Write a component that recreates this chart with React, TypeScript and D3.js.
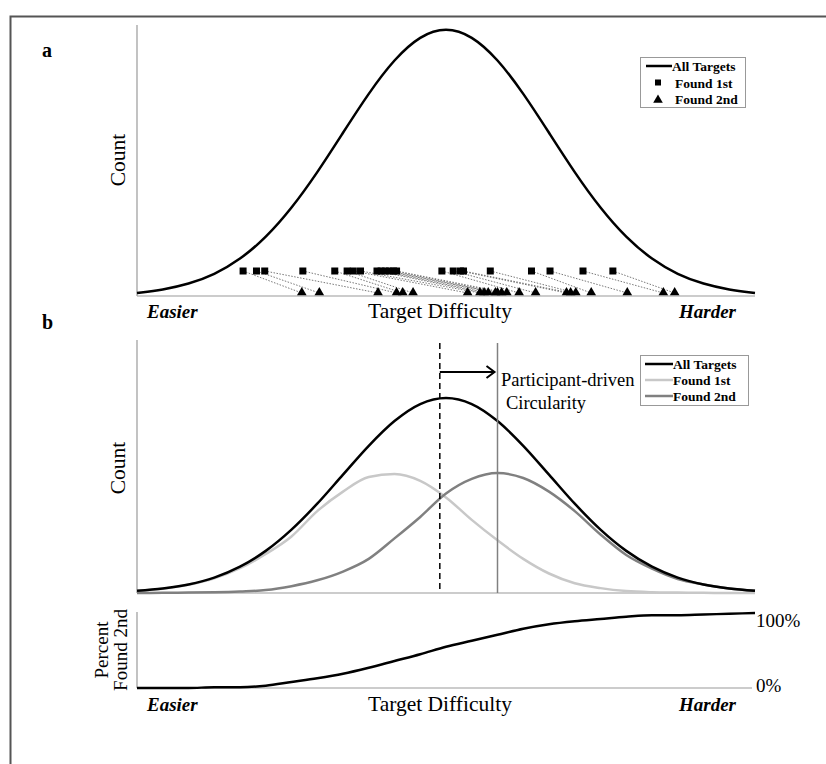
import React from 'react';
import * as d3 from 'd3';

// difficulty bins (SD units) and the curves read at each bin
const difficulty = [-3, -2.75, -2.5, -2.25, -2, -1.75, -1.5, -1.25, -1, -0.75, -0.5, -0.25, 0, 0.25, 0.5, 0.75, 1, 1.25, 1.5, 1.75, 2, 2.25, 2.5, 2.75, 3];
const allTargets = [1.1, 2.3, 4.4, 7.9, 13.5, 21.6, 32.5, 45.8, 60.7, 75.5, 88.2, 96.9, 100, 96.9, 88.2, 75.5, 60.7, 45.8, 32.5, 21.6, 13.5, 7.9, 4.4, 2.3, 1.1];
const found1st = [1.1, 2.2, 4.2, 7.5, 12.7, 20, 29, 42, 52, 59.5, 61, 57.5, 49, 37.5, 27, 17.5, 10, 5, 2.5, 1, 0.4, 0.2, 0.1, 0, 0];
const found2nd = [0, 0.1, 0.2, 0.4, 0.8, 1.5, 3.5, 6.5, 11, 17.5, 28, 39, 51, 58.5, 61.5, 59, 52, 42, 30, 19.5, 12.5, 7.2, 4.4, 2.3, 1.1];
const percentFound2nd = [0, 0, 0, 1, 1, 3, 8, 13, 19, 27, 36, 45, 55, 63, 71, 79, 85, 89, 92, 95, 97, 97, 98, 99, 100];

// panel a: difficulty of the target found 1st / 2nd in each search
const pairFirst = [-1.97, -1.84, -1.76, -1.39, -1.08, -0.96, -0.9, -0.83, -0.67, -0.63, -0.59, -0.55, -0.51, -0.48, -0.04, 0.07, 0.14, 0.17, 0.43, 0.83, 1.01, 1.33, 1.62];
const pairSecond = [-1.4, -1.23, -0.66, -0.48, -0.42, -0.32, 0.21, 0.33, 0.37, 0.41, 0.48, 0.5, 0.54, 0.59, 0.71, 0.87, 1.17, 1.21, 1.26, 1.41, 1.76, 2.11, 2.22];

const meanAll = -0.06;
const meanFound2nd = 0.5;

const W = 826;
const H = 764;
const serif = '"Liberation Serif", "Times New Roman", serif';
const axisColor = '#9a9a9a';

const x = d3.scaleLinear().domain([-3, 3]).range([137, 755]);
const yA = d3.scaleLinear().domain([0, 100]).range([296, 27]);
const yB = d3.scaleLinear().domain([0, 100]).range([593, 398]);
const yP = d3.scaleLinear().domain([0, 100]).range([688, 613]);

const lineFor = (vals: number[], y: d3.ScaleLinear<number, number>, curve: d3.CurveFactory) =>
  d3.line<number>()
    .x((_, i) => x(difficulty[i]))
    .y(d => y(d))
    .curve(curve)(vals) as string;

const tri = d3.symbol().type(d3.symbolTriangle).size(40)() as string;

const AxisLabels = ({ y }: { y: number }) => (
  <g fontFamily={serif}>
    <text x={147} y={y} fontSize={19} fontWeight="bold" fontStyle="italic">Easier</text>
    <text x={440} y={y} fontSize={21.5} textAnchor="middle">Target Difficulty</text>
    <text x={736} y={y} fontSize={19} fontWeight="bold" fontStyle="italic" textAnchor="end">Harder</text>
  </g>
);

const App = () => {
  return (
    <svg width={W} height={H} style={{ position: 'absolute', left: 0, top: 0, background: '#fff' }}>
      <rect x={10.5} y={16.5} width={840} height={780} fill="none" stroke="#555" strokeWidth={2} />

      {/* panel a */}
      <text x={42} y={57} fontFamily={serif} fontSize={20} fontWeight="bold">a</text>
      <line x1={137} x2={137} y1={25} y2={296} stroke={axisColor} strokeWidth={1.2} />
      <line x1={137} x2={755} y1={296} y2={296} stroke={axisColor} strokeWidth={1.2} />
      <text transform="translate(125,160) rotate(-90)" textAnchor="middle" fontFamily={serif} fontSize={21.5}>Count</text>
      {pairFirst.map((d, i) => (
        <line key={'p' + i} x1={x(d)} y1={271} x2={x(pairSecond[i])} y2={293}
          stroke="#555" strokeWidth={0.8} strokeDasharray="1.5,1.5" />
      ))}
      <path d={lineFor(allTargets, yA, d3.curveBasis)} fill="none" stroke="#000" strokeWidth={2.5} />
      {pairFirst.map((d, i) => (
        <rect key={'s' + i} x={x(d) - 3.5} y={267.5} width={7} height={7} fill="#000" />
      ))}
      {pairSecond.map((d, i) => (
        <path key={'t' + i} d={tri} transform={`translate(${x(d)},${292.5})`} fill="#000" />
      ))}
      <g fontFamily={serif} fontSize={13.5} fontWeight="bold">
        <rect x={640.5} y={57.5} width={105} height={50} fill="#fff" stroke="#999" strokeWidth={1} />
        <line x1={646} x2={672} y1={66} y2={66} stroke="#000" strokeWidth={2.5} />
        <text x={672} y={70.5}>All Targets</text>
        <rect x={655} y={79.5} width={6} height={6} fill="#000" />
        <text x={675} y={87.5}>Found 1st</text>
        <path d={tri} transform="translate(658,100)" fill="#000" />
        <text x={675} y={104}>Found 2nd</text>
      </g>
      <AxisLabels y={318} />

      {/* panel b */}
      <text x={42} y={329} fontFamily={serif} fontSize={20} fontWeight="bold">b</text>
      <line x1={137} x2={137} y1={340} y2={593} stroke={axisColor} strokeWidth={1.2} />
      <line x1={137} x2={755} y1={593} y2={593} stroke={axisColor} strokeWidth={1.2} />
      <text transform="translate(125,468) rotate(-90)" textAnchor="middle" fontFamily={serif} fontSize={21.5}>Count</text>
      <path d={lineFor(found1st, yB, d3.curveMonotoneX)} fill="none" stroke="#c8c8c8" strokeWidth={2.5} />
      <path d={lineFor(found2nd, yB, d3.curveMonotoneX)} fill="none" stroke="#808080" strokeWidth={2.5} />
      <path d={lineFor(allTargets, yB, d3.curveMonotoneX)} fill="none" stroke="#000" strokeWidth={2.5} />
      <line x1={x(meanAll)} x2={x(meanAll)} y1={343} y2={593} stroke="#000" strokeWidth={1.5} strokeDasharray="6,4" />
      <line x1={x(meanFound2nd)} x2={x(meanFound2nd)} y1={343} y2={593} stroke="#808080" strokeWidth={1.5} />
      <line x1={x(meanAll)} x2={x(meanFound2nd) - 4} y1={372} y2={372} stroke="#000" strokeWidth={2} />
      <path d={`M${x(meanFound2nd) - 11},${366} L${x(meanFound2nd) - 3},${372} L${x(meanFound2nd) - 11},${378}`}
        fill="none" stroke="#000" strokeWidth={2} />
      <g fontFamily={serif} fontSize={18.5}>
        <text x={501} y={386}>Participant-driven</text>
        <text x={546} y={409} textAnchor="middle">Circularity</text>
      </g>
      <g fontFamily={serif} fontSize={13.5} fontWeight="bold">
        <rect x={640.5} y={355.5} width={108} height={50} fill="#fff" stroke="#999" strokeWidth={1} />
        <line x1={645} x2={673} y1={364} y2={364} stroke="#000" strokeWidth={2.5} />
        <text x={673} y={368.5}>All Targets</text>
        <line x1={645} x2={673} y1={380} y2={380} stroke="#c8c8c8" strokeWidth={2.5} />
        <text x={673} y={384.5}>Found 1st</text>
        <line x1={645} x2={673} y1={396} y2={396} stroke="#808080" strokeWidth={2.5} />
        <text x={673} y={400.5}>Found 2nd</text>
      </g>

      {/* percent found 2nd */}
      <line x1={137} x2={137} y1={612} y2={688} stroke={axisColor} strokeWidth={1.2} />
      <line x1={137} x2={752} y1={688} y2={688} stroke={axisColor} strokeWidth={1.2} />
      <path d={lineFor(percentFound2nd, yP, d3.curveMonotoneX)} fill="none" stroke="#000" strokeWidth={2.5} />
      <g fontFamily={serif} fontSize={19}>
        <text transform="translate(108,650) rotate(-90)" textAnchor="middle">Percent</text>
        <text transform="translate(127,650) rotate(-90)" textAnchor="middle">Found 2nd</text>
        <text x={756} y={627}>100%</text>
        <text x={756} y={692}>0%</text>
      </g>
      <AxisLabels y={711} />
    </svg>
  );
};

export default App;
